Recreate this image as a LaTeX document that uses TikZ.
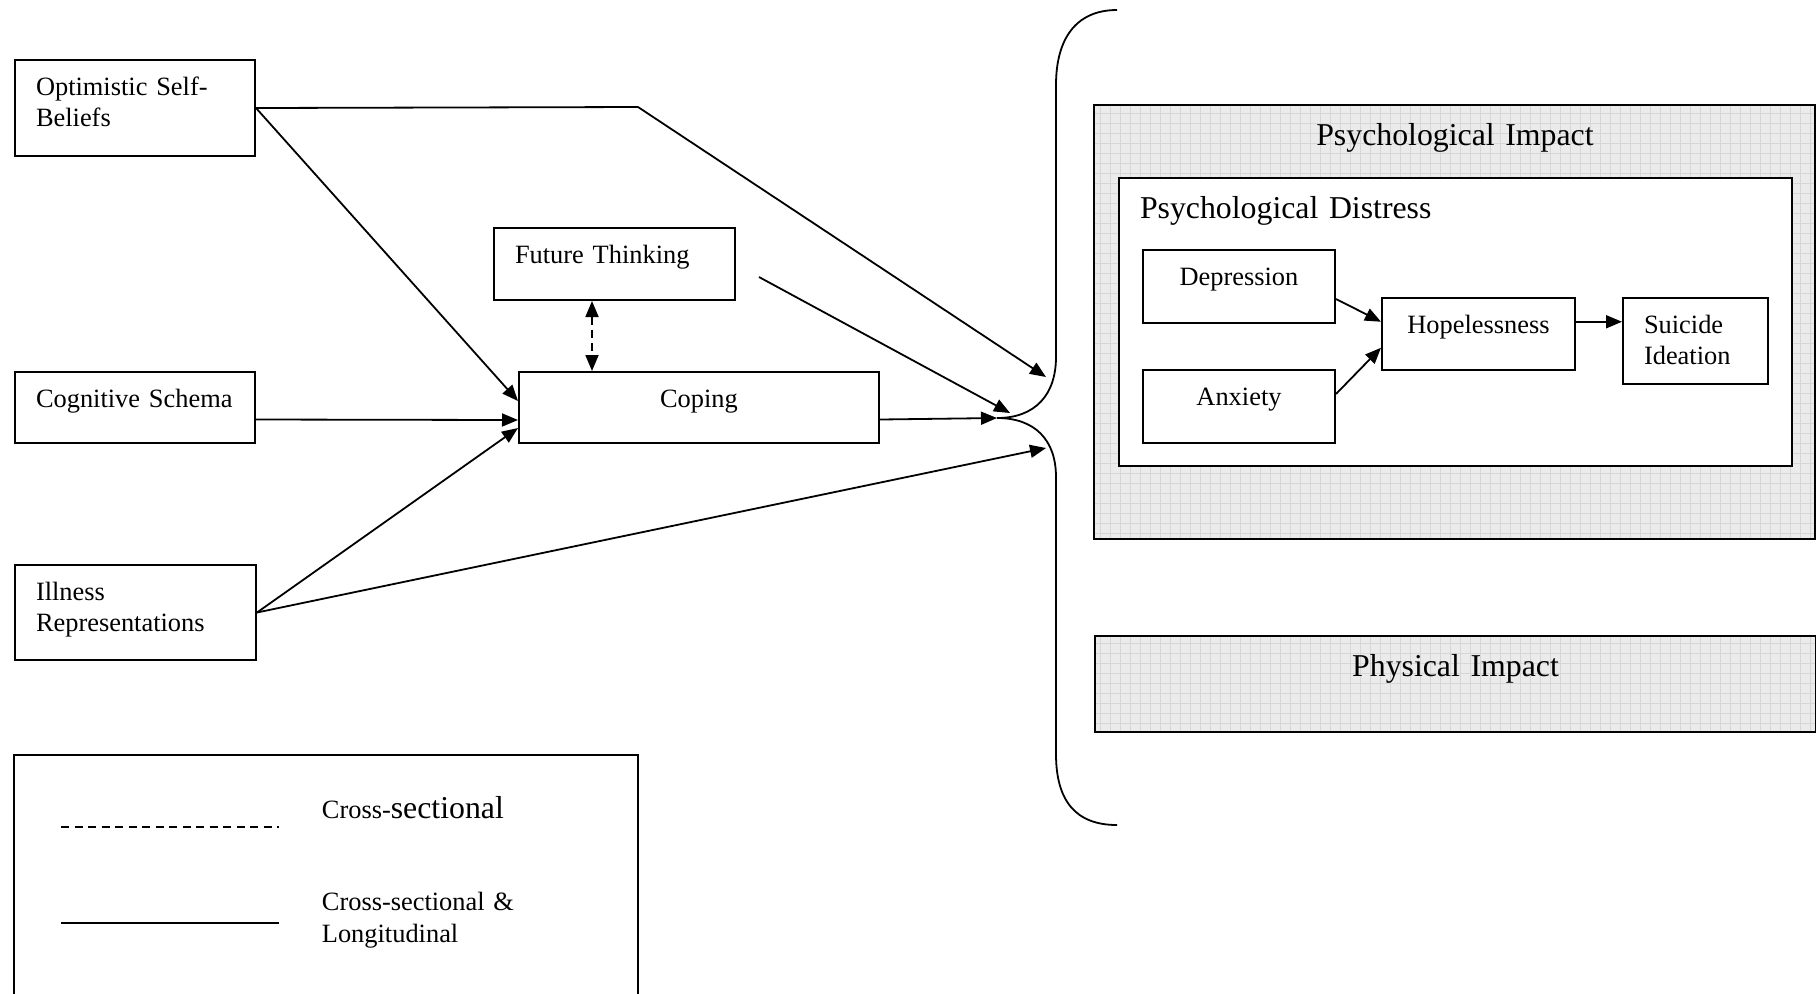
\documentclass[tikz,border=0pt]{standalone}
\usepackage{fontspec}
\setmainfont{Liberation Serif}
\usetikzlibrary{positioning, arrows.meta, patterns.meta}

\newcommand\impactfont{\fontsize{15.9pt}{19pt}\selectfont}

\tikzset{
  box/.style={draw, line width=1pt, anchor=north west, inner xsep=10.5pt,
    inner ysep=0pt, text height=17.75pt, align=left},
  impact/.style={box, font=\impactfont, text height=20pt,
    preaction={fill=gray!16},
    pattern={Hatch[angle=0, distance=5pt, line width=0.45pt]},
    pattern color=gray!32},
}

\begin{document}
\begin{tikzpicture}[->, >={Triangle[length=8pt, width=6.5pt]}, x=0.5pt, y=-0.5pt,
    line width=0.9pt, font=\fontsize{13.2pt}{15.6pt}\selectfont]
    \useasboundingbox (0,0) rectangle (1816,993);
    \clip (0,0) rectangle (1816,993);

    % Predictors
    \node[box, text width=99pt, text depth=30.25pt] (OSB) at (14,59) {Optimistic Self-\\Beliefs};
    \node[box, text width=99pt, text depth=17.75pt] (CS) at (14,371) {Cognitive Schema};
    \node[box, text width=99.5pt, text depth=29.75pt] (IR) at (14,564) {Illness\\Representations};
    \node[box, text width=99.5pt, text depth=18.25pt] (FT) at (493,227) {Future Thinking};
    \node[box, text width=159pt, text depth=17.75pt, align=center] (Cop) at (518,371) {Coping};

    % Outcomes
    \node[impact, text width=339.5pt, text depth=197pt, align=center] (PI) at (1094,105) {Psychological Impact};
    \node[box, font=\impactfont, fill=white, text height=20pt, text width=315.5pt, text depth=124pt] (PD) at (1118,177) {Psychological Distress};
    \node[box, text width=75pt, text depth=18.75pt, align=center] (Dep) at (1142,249) {Depression};
    \node[box, text width=75pt, text depth=18.75pt, align=center] (Anx) at (1142,369) {Anxiety};
    \node[box, text width=75.5pt, text depth=18pt, align=center] (Hop) at (1381,297) {Hopelessness};
    \node[box, text width=51.5pt, text depth=25.25pt] (SI) at (1622,297) {Suicide\\Ideation};
    \node[impact, text width=339.5pt, text depth=28pt, align=center] (PhI) at (1094,635) {Physical Impact};

    % Brace
    \coordinate (mid) at (997,418);
    \coordinate (bend) at (638,107);
    \coordinate (upin) at (1046,377);
    \coordinate (lowin) at (1046,448);
    \coordinate (ftout) at (759,277);
    \coordinate (ftin) at (1010,413);
    \draw[-] (1117,10) .. controls (1075,10) and (1056,40) .. (1056,85) -- (1056,357)
        .. controls (1056,395) and (1035,418) .. (mid)
        .. controls (1035,418) and (1056,440) .. (1056,477) -- (1056,754)
        .. controls (1056,800) and (1075,825) .. (1117,825);

    % Transitions
    \draw (OSB.east) -- (bend) -- (upin);
    \path (OSB.east) edge ([yshift=3.25pt]Cop.west)
          ([yshift=-6pt]CS.east) edge ([yshift=-6.25pt]Cop.west)
          (IR.east) edge ([yshift=-10.25pt]Cop.west)
                    edge (lowin)
          ([yshift=-6pt]Cop.east) edge (mid)
          (ftout) edge (ftin);
    \draw[<->, dash pattern=on 4pt off 2.5pt] ([xshift=-11.25pt]FT.south) -- ([xshift=-11.25pt]FT.south |- Cop.north);

    \path ([yshift=-6.25pt]Dep.east) edge ([yshift=6pt]Hop.west)
          ([yshift=6.25pt]Anx.east) edge ([yshift=-7pt]Hop.west)
          ([yshift=6pt]Hop.east) edge ([yshift=6pt]Hop.east -| SI.west);

    % Legend
    \draw[-, line width=1pt] (14,755) rectangle (638,1000);
    \draw[-, dash pattern=on 4pt off 2.75pt] (61,827) -- (279,827);
    \draw[-] (61,923) -- (279,923);
    \node[anchor=base west, inner sep=0pt] (LCS) at (321,818) {Cross-{\impactfont sectional}};
    \node[anchor=north west, inner sep=0pt, text width=150pt, text height=9pt] (LCL) at (321,892) {Cross-sectional \&\\Longitudinal};
\end{tikzpicture}
\end{document}
